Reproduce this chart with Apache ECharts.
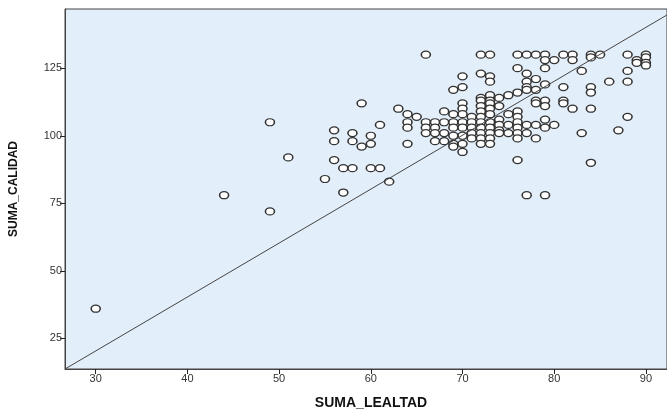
<!DOCTYPE html>
<html>
<head>
<meta charset="utf-8">
<script src="https://cdn.jsdelivr.net/npm/echarts@6/dist/echarts.min.js"></script>
<style>
html,body{margin:0;padding:0;background:#fff;}
#c{width:667px;height:415px;}
</style>
</head>
<body>
<div id="c"></div>
<script>
// Data (SUMA_LEALTAD, SUMA_CALIDAD)
const xTicks = [30, 40, 50, 60, 70, 80, 90];
const yTicks = [25, 50, 75, 100, 125];
const xRange = [26.65, 92.3];
const yRange = [13.7, 146.9];
const refLine = [[26.65, 13.7], [92.3, 144.7]];

// columns: x value -> list of y values
const colX = [30, 44, 49, 51, 55, 56, 57, 58, 59, 60, 61, 62, 63, 64, 65,
  66, 67, 68, 69, 70, 71, 72, 73, 74, 75, 76, 77, 78, 79, 80,
  81, 82, 83, 84, 85, 86, 87, 88, 89, 90];
const colY = [
  [36], [78], [105, 72], [92], [84], [102, 98, 91], [88, 79], [101, 98, 88], [112, 96], [100, 97, 88],
  [104, 88], [83], [110], [108, 105, 103, 97], [107],
  [130, 105, 103, 101], [105, 103, 101, 98], [109, 105, 101, 98],
  [117, 108, 105, 103, 100, 97, 96],
  [122, 118, 112, 110, 108, 105, 103, 100, 97, 94],
  [107, 105, 103, 101, 99],
  [130, 123, 114, 113, 111, 109, 107, 105, 103, 101, 99, 97],
  [130, 122, 120, 115, 113, 112, 110, 108, 105, 103, 101, 99, 97],
  [114, 111, 106, 104, 102, 101],
  [115, 108, 104, 101],
  [130, 125, 116, 109, 107, 105, 103, 101, 99, 91],
  [130, 123, 120, 118, 117, 104, 101, 78],
  [130, 121, 117, 113, 112, 104, 99],
  [130, 128, 125, 119, 113, 111, 106, 103, 78],
  [128, 104],
  [130, 118, 113, 112], [130, 128, 110], [124, 101], [130, 129, 118, 116, 110, 90],
  [130], [120], [102], [130, 124, 120, 107], [128, 127], [130, 129, 127, 126]
];

const points = [];
colX.forEach((x, i) => colY[i].forEach(y => points.push([x, y])));

const chart = echarts.init(document.getElementById('c'), null, {renderer: 'canvas'});
const axisLabelStyle = {color: '#333', fontFamily: 'Liberation Sans, Arial, sans-serif', fontSize: 11};
chart.setOption({
  animation: false,
  backgroundColor: '#fff',
  grid: {left: 65, top: 9, right: -2, bottom: 41, show: true,
         backgroundColor: '#E2EEFA', borderColor: '#444', borderWidth: 1},
  xAxis: {
    type: 'value', min: xRange[0], max: xRange[1],
    name: 'SUMA_LEALTAD', nameLocation: 'middle', nameGap: 27,
    nameTextStyle: {fontFamily: 'Liberation Sans, Arial, sans-serif', fontWeight: 'bold', fontSize: 14, color: '#111', padding: [0, 0, 0, 10]},
    axisLine: {show: true, onZero: false, lineStyle: {color: '#444', width: 1}},
    axisTick: {show: true, length: 5, lineStyle: {color: '#222'}, customValues: xTicks},
    axisLabel: Object.assign({margin: 4, customValues: xTicks}, axisLabelStyle),
    splitLine: {show: false}
  },
  yAxis: {
    type: 'value', min: yRange[0], max: yRange[1],
    name: 'SUMA_CALIDAD', nameLocation: 'middle', nameGap: 45, nameRotate: 90,
    nameTextStyle: {fontFamily: 'Liberation Sans, Arial, sans-serif', fontWeight: 'bold', fontSize: 12, color: '#111'},
    axisLine: {show: true, onZero: false, lineStyle: {color: '#444', width: 1}},
    axisTick: {show: true, length: 5, lineStyle: {color: '#222'}, customValues: yTicks},
    axisLabel: Object.assign({margin: 3, customValues: yTicks}, axisLabelStyle),
    splitLine: {show: false}
  },
  series: [
    {
      type: 'line', data: refLine, symbol: 'none', silent: true, z: 3,
      lineStyle: {color: '#444', width: 1}
    },
    {
      type: 'scatter', data: points, symbol: 'circle', symbolSize: [9, 7], z: 2,
      itemStyle: {color: '#fff', borderColor: '#333', borderWidth: 1.4, opacity: 1}
    }
  ]
});
</script>
</body>
</html>
